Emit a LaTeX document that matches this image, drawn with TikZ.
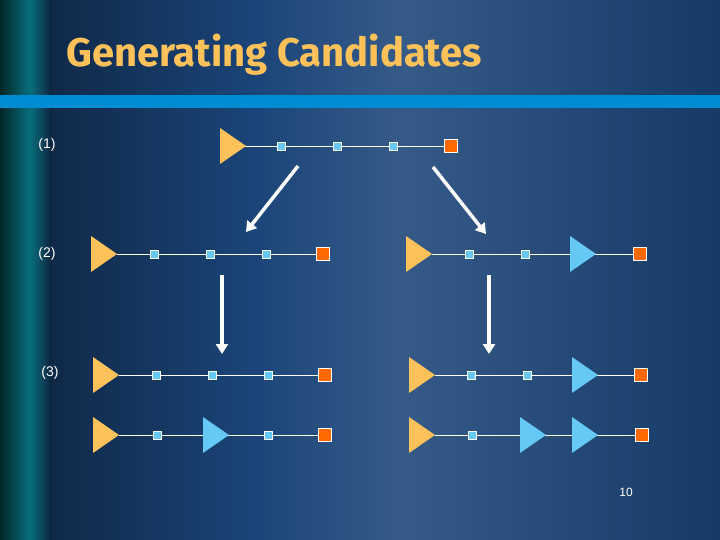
\documentclass[tikz,border=0pt]{standalone}
\usepackage{fontspec}
\setmainfont{Liberation Sans}
\newfontfamily\titlefont{Fira Sans}
\begin{document}
\begin{tikzpicture}[x=1pt,y=-1pt,
  src/.style={fill=srcc},
  mid/.style={fill=lblue,draw=white,line width=0.6pt,minimum size=8pt,inner sep=0pt},
  dst/.style={fill=dstc,draw=white,line width=1.2pt,minimum size=13pt,inner sep=0pt},
  lnk/.style={white,line width=0.8pt},
  bigarr/.style={white,line width=3.5pt,-{Triangle[length=10pt,width=12pt]}},
  lbl/.style={white,font=\fontsize{14}{16}\selectfont}]
\usetikzlibrary{arrows.meta}
\definecolor{srcc}{HTML}{FFC25A}
\definecolor{lblue}{HTML}{66C8F5}
\definecolor{dstc}{HTML}{FF6A00}
\definecolor{bg}{HTML}{1A4478}
\useasboundingbox (0,0) rectangle (720,540);
\fill[bg] (0,0) rectangle (720,540);
\shade[left color=bg!60!black, right color=bg] (50,0) rectangle (250,540);
\shade[left color=bg, right color=bg!88!white] (250,0) rectangle (400,540);
\shade[left color=bg!88!white, right color=bg!85!black] (400,0) rectangle (720,540);
\shade[left color=black!70!teal, right color=teal!70!bg] (0,0) rectangle (30,540);
\shade[left color=teal!70!bg, right color=bg!50!black] (30,0) rectangle (52,540);
\fill[color={rgb,255:red,0;green,140;blue,210}] (0,95) rectangle (720,108);
\node[font=\titlefont\bfseries\fontsize{40}{46}\selectfont,text=srcc,anchor=west,inner sep=0pt] (title) at (66,55) {Generating Candidates};
\newcommand\srctri[3]{\fill[#3] (#1,#2-18) -- (#1+26,#2) -- (#1,#2+18) -- cycle;}
% row 1
\coordinate (r1s) at (244,146);
\node[dst] (r1d) at (451,146) {};
\draw[lnk] (r1s) -- (r1d);
\srctri{220}{146}{srcc}
\node[mid] (r1a) at (281,146) {}; \node[mid] (r1b) at (337,146) {}; \node[mid] (r1c) at (393,146) {};
% row 2 left
\coordinate (r2s) at (117,254); \node[dst] (r2d) at (323,254) {};
\draw[lnk] (r2s) -- (r2d); \srctri{91}{254}{srcc}
\node[mid] at (154,254) {}; \node[mid] at (210,254) {}; \node[mid] at (266,254) {};
% row 2 right
\coordinate (q2s) at (432,254); \node[dst] (q2d) at (640,254) {};
\draw[lnk] (q2s) -- (q2d); \srctri{406}{254}{srcc}
\node[mid] at (469,254) {}; \node[mid] at (525,254) {}; \srctri{570}{254}{lblue}
% row 3 left
\coordinate (r3s) at (119,375); \node[dst] (r3d) at (325,375) {};
\draw[lnk] (r3s) -- (r3d); \srctri{93}{375}{srcc}
\node[mid] at (156,375) {}; \node[mid] at (212,375) {}; \node[mid] at (268,375) {};
% row 3 right
\coordinate (q3s) at (435,375); \node[dst] (q3d) at (641,375) {};
\draw[lnk] (q3s) -- (q3d); \srctri{409}{375}{srcc}
\node[mid] at (471,375) {}; \node[mid] at (527,375) {}; \srctri{572}{375}{lblue}
% row 4 left
\coordinate (r4s) at (119,435); \node[dst] (r4d) at (325,435) {};
\draw[lnk] (r4s) -- (r4d); \srctri{93}{435}{srcc}
\node[mid] at (157,435) {}; \srctri{203}{435}{lblue} \node[mid] at (268,435) {};
% row 4 right
\coordinate (q4s) at (435,435); \node[dst] (q4d) at (642,435) {};
\draw[lnk] (q4s) -- (q4d); \srctri{409}{435}{srcc}
\node[mid] at (472,435) {}; \srctri{520}{435}{lblue} \srctri{572}{435}{lblue}
% arrows
\coordinate (a1) at (298,166); \coordinate (a1e) at (246,232);
\coordinate (a2) at (433,167); \coordinate (a2e) at (486,234);
\coordinate (a3) at (222,275); \coordinate (a3e) at (222,354);
\coordinate (a4) at (489,275); \coordinate (a4e) at (489,354);
\draw[bigarr] (a1) -- (a1e); \draw[bigarr] (a2) -- (a2e);
\draw[bigarr] (a3) -- (a3e); \draw[bigarr] (a4) -- (a4e);
% labels
\node[lbl] (l1) at (47,145) {(1)};
\node[lbl] (l2) at (47,254) {(2)};
\node[lbl] (l3) at (50,373) {(3)};
\node[white,font=\fontsize{12}{14}\selectfont] (pg) at (626,492) {10};
\end{tikzpicture}
\end{document}
